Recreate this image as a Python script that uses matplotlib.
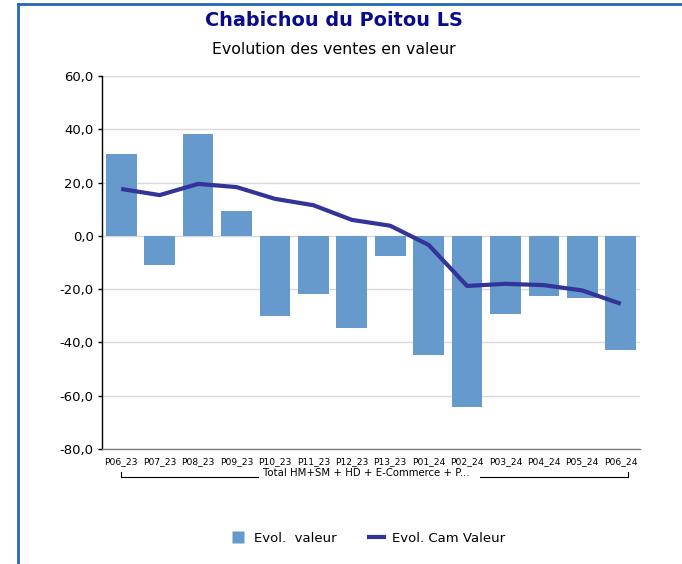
import matplotlib
matplotlib.use("Agg")
import matplotlib.pyplot as plt
from matplotlib.lines import Line2D
from matplotlib.ticker import FuncFormatter, MultipleLocator
import matplotlib.transforms as mtransforms

categories = ["P06_23", "P07_23", "P08_23", "P09_23", "P10_23", "P11_23", "P12_23",
              "P13_23", "P01_24", "P02_24", "P03_24", "P04_24", "P05_24", "P06_24"]
evol_valeur = [30.8, -11.1, 38.3, 9.5, -29.9, -22.0, -34.4,
               -7.4, -44.9, -64.4, -29.5, -22.4, -23.5, -43.0]
evol_cam_valeur = [17.6, 15.3, 19.5, 18.3, 13.9, 11.5, 6.0,
                   3.8, -3.4, -18.8, -18.0, -18.5, -20.5, -25.5]
group_label = "Total HM+SM + HD + E-Commerce + P..."
title = "Chabichou du Poitou LS"
subtitle = "Evolution des ventes en valeur"

plt.rcParams['font.family'] = ['DejaVu Sans']

W, H = 682, 564
fig = plt.figure(figsize=(W / 100, H / 100), dpi=100)
fig.patch.set_facecolor("white")

BAR_C = "#6699CC"
LINE_C = "#333399"

ax = fig.add_axes([102 / W, 1 - 449 / H, (640 - 102) / W, (449 - 76) / H])
x = list(range(len(categories)))
ax.bar(x, evol_valeur, width=0.8, color=BAR_C, zorder=2, label="Evol.  valeur")
ax.plot(x, evol_cam_valeur, color=LINE_C, linewidth=3, zorder=3, label="Evol. Cam Valeur",
        solid_capstyle="butt")

ax.set_xlim(-0.5, len(categories) - 0.5)
ax.set_ylim(-80, 60)
ax.yaxis.set_major_locator(MultipleLocator(20))
ax.yaxis.set_major_formatter(FuncFormatter(lambda v, p: f"{v:.1f}".replace(".", ",")))
ax.grid(axis="y", color="#D9D9D9", linewidth=1, zorder=0)
ax.set_axisbelow(True)
for s in ["top", "right"]:
    ax.spines[s].set_visible(False)
ax.spines["left"].set_color("black")
ax.spines["left"].set_linewidth(1)
ax.spines["bottom"].set_color("#808080")
ax.spines["bottom"].set_linewidth(1)
ax.tick_params(axis="y", length=3, width=1, color="black", labelsize=9.5, pad=3)
ax.tick_params(axis="x", length=0, labelsize=6.6, pad=6)
ax.set_xticks(x)
ax.set_xticklabels(categories)

# group bracket below the category labels
trans = mtransforms.blended_transform_factory(ax.transData, fig.transFigure)
yb = 1 - 477 / H
yt = 1 - 472 / H
x0, x1 = x[0], x[-1]
mid = (x0 + x1) / 2 - 0.13
ax.text(mid, 1 - 473 / H, group_label, transform=trans, ha="center", va="center",
        fontsize=7.3, color="#000000", zorder=5)
ax.add_line(Line2D([x0, x0, mid - 2.82], [yt, yb, yb], transform=trans, color="black",
                   linewidth=0.8, clip_on=False))
ax.add_line(Line2D([mid + 2.97, x1 + 0.18, x1 + 0.18], [yb, yb, yt], transform=trans,
                   color="black", linewidth=0.8, clip_on=False))

fig.text(334 / W, 1 - 20 / H, title, ha="center", va="center", fontsize=13.9,
         fontweight="bold", color="#0A0A8C")
fig.text(334 / W, 1 - 49 / H, subtitle, ha="center", va="center", fontsize=11.3, color="black")

handles = [Line2D([0], [0], linestyle="none", marker="s", markersize=8.4, markerfacecolor=BAR_C,
                  markeredgecolor="none", label="Evol.  valeur"),
           Line2D([0], [0], color=LINE_C, linewidth=3, label="Evol. Cam Valeur")]
fig.legend(handles=handles, loc="center", bbox_to_anchor=(368 / W, 1 - 538 / H), ncol=2,
           frameon=False, fontsize=9.5, handlelength=1.2, handleheight=1.0,
           columnspacing=2.4, handletextpad=0.6)

# blue frame
border = "#2468BC"
fig.add_artist(Line2D([18 / W, 18 / W], [0, 1 - 4 / H], transform=fig.transFigure,
                      color=border, linewidth=2))
fig.add_artist(Line2D([18 / W, 1], [1 - 4 / H, 1 - 4 / H], transform=fig.transFigure,
                      color=border, linewidth=2))

fig.savefig("out.png", dpi=100, facecolor="white")
